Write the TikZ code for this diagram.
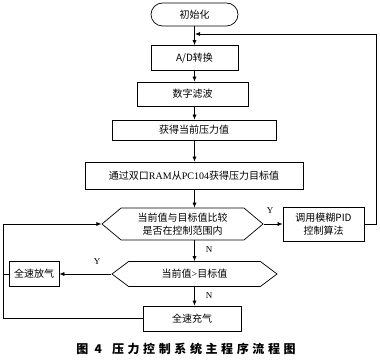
\documentclass[tikz,border=0pt]{standalone}
\usepackage{fontspec}
\setmainfont{Liberation Serif}
\newfontfamily\cjk{Noto Sans CJK SC}
\usetikzlibrary{positioning,arrows.meta,shapes.symbols}
\tikzset{
  flowarrow/.style={-{Latex[length=5pt,width=4pt]}, line width=0.7pt},
  flowline/.style={line width=0.7pt},
  procbox/.style={draw, line width=0.7pt, inner sep=1pt, align=center, font=\cjk\fontsize{10}{13}\selectfont},
  termbox/.style={procbox, rounded corners=11.5pt},
  decbox/.style={procbox, signal, signal to=west and east},
  ynlabel/.style={font=\fontsize{9}{10}\selectfont, inner sep=1pt}
}

\begin{document}
\begin{tikzpicture}[x=1pt, y=-1pt]
  \useasboundingbox (0,0) rectangle (380,363);
  % main column
  \node[termbox, minimum width=87pt, minimum height=23pt] (init) at (194.5,14.5) {初始化};
  \node[procbox, minimum width=87pt, minimum height=25pt] (ad) at (194.5,58) {A/D转换};
  \node[procbox, minimum width=111pt, minimum height=24pt] (filt) at (192.5,94) {数字滤波};
  \node[procbox, minimum width=164pt, minimum height=20pt] (cur) at (194,130) {获得当前压力值};
  \node[procbox, minimum width=218pt, minimum height=27pt] (tgt) at (194,175.5) {通过双口{\rmfamily RAM}从{\rmfamily PC104}获得压力目标值};
  \node[decbox, minimum width=161pt, minimum height=32pt, signal pointer angle=80] (dec1) at (182.5,224) {当前值与目标值比较\\是否在控制范围内};
  \node[procbox, minimum width=81pt, minimum height=34pt] (pid) at (323.5,224) {调用模糊PID\\控制算法};
  \node[decbox, minimum width=165pt, minimum height=25pt, signal pointer angle=74] (dec2) at (194.5,274) {当前值{\rmfamily >}目标值};
  \node[procbox, minimum width=50pt, minimum height=25pt] (vent) at (34,274) {全速放气};
  \node[procbox, minimum width=98pt, minimum height=25pt] (fill) at (192,318.5) {全速充气};
  % loop corners
  \coordinate (fb) at (195,34);
  \coordinate (fbright) at (376,34);
  \coordinate (loopleft) at (3,224);
  % connectors
  \draw[flowarrow] (init) -- (ad);
  \draw[flowarrow] (ad.south) -- (ad.south |- filt.north);
  \draw[flowarrow] (ad.south |- filt.south) -- (ad.south |- cur.north);
  \draw[flowarrow] (ad.south |- cur.south) -- (ad.south |- tgt.north);
  \draw[flowarrow] (ad.south |- tgt.south) -- (ad.south |- dec1.north);
  \draw[flowarrow] (dec1.east) -- (pid.west);
  \draw[flowarrow] (pid.east) -| (fbright) -- (fb);
  \draw[flowarrow] (ad.south |- dec1.south) -- (ad.south |- dec2.north);
  \draw[flowarrow] (dec2.west) -- (vent.east);
  \draw[flowarrow] (dec2.south) -- (dec2.south |- fill.north);
  \draw[flowarrow] (fill.west) -| (loopleft) -- (dec1.west);
  \draw[flowline] (vent.west) -- (vent.west -| loopleft);
  % Y/N labels
  \node[ynlabel] (y1) at (270,211) {Y};
  \node[ynlabel] (n1) at (209,250) {N};
  \node[ynlabel] (y2) at (97,262) {Y};
  \node[ynlabel] (n2) at (209,296) {N};
  % caption
  \node[font=\cjk\bfseries\fontsize{12}{14}\selectfont\addfontfeatures{LetterSpace=30}] (caption) at (186,349) {图 4\hspace{10pt}压力控制系统主程序流程图};
\end{tikzpicture}
\end{document}
